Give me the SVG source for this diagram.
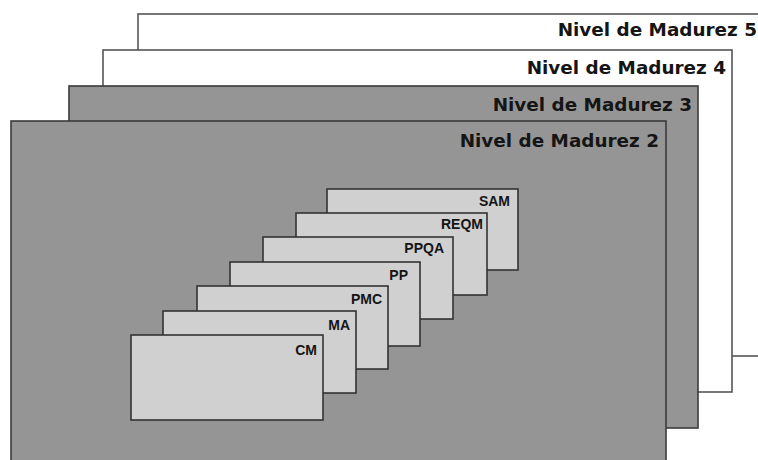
<svg xmlns="http://www.w3.org/2000/svg" width="758" height="460" viewBox="0 0 758 460">
<style>
.lvl-w{fill:#ffffff;stroke:#555555;stroke-width:1.6}
.lvl-g{fill:#959595;stroke:#3a3a3a;stroke-width:1.6}
.card{fill:#d0d0d0;stroke:#333333;stroke-width:1.6}
.t{font-family:"DejaVu Sans",Verdana,sans-serif;font-weight:bold;font-size:18.4px;fill:#151515;text-anchor:end}
.c{font-family:"Liberation Sans",Arial,sans-serif;font-weight:bold;font-size:14px;fill:#151515;text-anchor:end}
</style>
<rect width="758" height="460" fill="#ffffff"/>
<g id="nivel5">
<rect class="lvl-w" x="138" y="14" width="630" height="342"/>
<text class="t" x="757" y="36">Nivel de Madurez 5</text>
</g>
<g id="nivel4">
<rect class="lvl-w" x="103" y="50" width="629" height="342"/>
<text class="t" x="726" y="74">Nivel de Madurez 4</text>
</g>
<g id="nivel3">
<rect class="lvl-g" x="69" y="86" width="629" height="342"/>
<text class="t" x="692" y="111">Nivel de Madurez 3</text>
</g>
<g id="nivel2">
<rect class="lvl-g" x="11" y="121" width="655" height="350"/>
<text class="t" x="659" y="147">Nivel de Madurez 2</text>
</g>
<g id="sam">
<rect class="card" x="327" y="189" width="191" height="81"/>
<text class="c" x="510" y="206">SAM</text>
</g>
<g id="reqm">
<rect class="card" x="296" y="213" width="191" height="82"/>
<text class="c" x="483" y="229">REQM</text>
</g>
<g id="ppqa">
<rect class="card" x="263" y="237" width="190" height="82"/>
<text class="c" x="444" y="253">PPQA</text>
</g>
<g id="pp">
<rect class="card" x="230" y="262" width="190" height="84"/>
<text class="c" x="408" y="280">PP</text>
</g>
<g id="pmc">
<rect class="card" x="197" y="286" width="191" height="83"/>
<text class="c" x="382" y="304">PMC</text>
</g>
<g id="ma">
<rect class="card" x="163" y="311" width="193" height="82"/>
<text class="c" x="350" y="330">MA</text>
</g>
<g id="cm">
<rect class="card" x="131" y="335" width="192" height="85"/>
<text class="c" x="317" y="355">CM</text>
</g>
</svg>
